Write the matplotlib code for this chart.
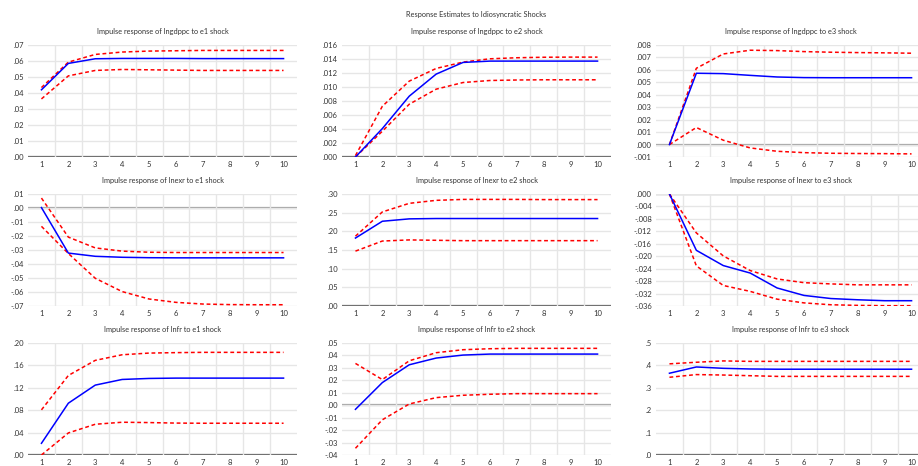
import matplotlib
matplotlib.use("Agg")
import matplotlib.pyplot as plt
import numpy as np

plt.rcParams['font.family'] = ['Lato', 'DejaVu Sans']

periods = list(range(1, 11))

# lngdppc
gdp_e1_mid = [0.0420, 0.0585, 0.0614, 0.0616, 0.0616, 0.0616, 0.0615, 0.0615, 0.0615, 0.0615]
gdp_e1_up = [0.0434, 0.0593, 0.0641, 0.0656, 0.0662, 0.0664, 0.0666, 0.0666, 0.0666, 0.0666]
gdp_e1_lo = [0.0363, 0.0507, 0.0541, 0.0547, 0.0545, 0.0543, 0.0541, 0.0541, 0.0541, 0.0541]

gdp_e2_mid = [0.0, 0.00406, 0.00869, 0.01184, 0.01351, 0.0137, 0.0137, 0.0137, 0.0137, 0.0137]
gdp_e2_up = [0.0002, 0.00725, 0.01084, 0.01265, 0.01356, 0.01403, 0.01418, 0.01425, 0.01427, 0.01427]
gdp_e2_lo = [0.0, 0.00368, 0.00754, 0.00969, 0.01064, 0.01093, 0.01100, 0.01103, 0.01103, 0.01103]

gdp_e3_mid = [0.0, 0.00573, 0.0057, 0.00556, 0.00543, 0.00538, 0.00537, 0.00537, 0.00537, 0.00537]
gdp_e3_up = [0.0, 0.00613, 0.00728, 0.00758, 0.00755, 0.00747, 0.00742, 0.00739, 0.00737, 0.00734]
gdp_e3_lo = [0.0, 0.00137, 0.00035, -0.00027, -0.00054, -0.00065, -0.00070, -0.00072, -0.00073, -0.00075]

# lnexr
exr_e1_mid = [0.0003, -0.0322, -0.0345, -0.0352, -0.0355, -0.0356, -0.0356, -0.0356, -0.0356, -0.0356]
exr_e1_up = [0.0071, -0.0208, -0.0285, -0.0308, -0.0316, -0.0318, -0.0318, -0.0318, -0.0318, -0.0318]
exr_e1_lo = [-0.0131, -0.0325, -0.0502, -0.0597, -0.0650, -0.0674, -0.0686, -0.0690, -0.0691, -0.0691]

exr_e2_mid = [0.182, 0.227, 0.2334, 0.2343, 0.2343, 0.2343, 0.2343, 0.2343, 0.2343, 0.2343]
exr_e2_up = [0.187, 0.252, 0.275, 0.283, 0.2855, 0.2855, 0.2855, 0.285, 0.285, 0.285]
exr_e2_lo = [0.147, 0.174, 0.177, 0.176, 0.175, 0.175, 0.175, 0.175, 0.175, 0.175]

exr_e3_mid = [0.0, -0.0181, -0.0230, -0.0254, -0.0302, -0.0326, -0.0336, -0.0340, -0.0343, -0.0343]
exr_e3_up = [0.0, -0.0125, -0.0199, -0.0246, -0.0273, -0.0285, -0.0289, -0.0292, -0.0292, -0.0292]
exr_e3_lo = [0.0, -0.0231, -0.0294, -0.0313, -0.0338, -0.0350, -0.0356, -0.0358, -0.0359, -0.0359]

# lnfr
fr_e1_mid = [0.0209, 0.0925, 0.1248, 0.1349, 0.1367, 0.1373, 0.1373, 0.1373, 0.1373, 0.1373]
fr_e1_up = [0.0806, 0.1420, 0.1690, 0.1790, 0.1820, 0.1828, 0.1833, 0.1833, 0.1833, 0.1833]
fr_e1_lo = [0.0, 0.0394, 0.0549, 0.0585, 0.0579, 0.0570, 0.0567, 0.0567, 0.0567, 0.0567]

fr_e2_mid = [-0.0033, 0.0182, 0.0325, 0.0379, 0.0403, 0.0411, 0.0411, 0.0411, 0.0411, 0.0411]
fr_e2_up = [0.0336, 0.0206, 0.0357, 0.0422, 0.0446, 0.0454, 0.0457, 0.0457, 0.0457, 0.0457]
fr_e2_lo = [-0.0346, -0.0117, 0.0010, 0.0061, 0.0080, 0.0088, 0.0093, 0.0093, 0.0093, 0.0093]

fr_e3_mid = [0.365, 0.393, 0.387, 0.384, 0.383, 0.383, 0.383, 0.383, 0.383, 0.383]
fr_e3_up = [0.407, 0.414, 0.420, 0.418, 0.418, 0.418, 0.418, 0.418, 0.418, 0.418]
fr_e3_lo = [0.347, 0.359, 0.357, 0.354, 0.351, 0.351, 0.351, 0.351, 0.351, 0.351]

panels = [
    ("Impulse response of lngdppc to e1 shock", gdp_e1_mid, gdp_e1_up, gdp_e1_lo, np.arange(0, 0.0701, 0.01), "{:.2f}"),
    ("Impulse response of lngdppc to e2 shock", gdp_e2_mid, gdp_e2_up, gdp_e2_lo, np.arange(0, 0.01601, 0.002), "{:.3f}"),
    ("Impulse response of lngdppc to e3 shock", gdp_e3_mid, gdp_e3_up, gdp_e3_lo, np.arange(-0.001, 0.00801, 0.001), "{:.3f}"),
    ("Impulse response of lnexr to e1 shock", exr_e1_mid, exr_e1_up, exr_e1_lo, np.arange(-0.07, 0.01001, 0.01), "{:.2f}"),
    ("Impulse response of lnexr to e2 shock", exr_e2_mid, exr_e2_up, exr_e2_lo, np.arange(0, 0.3001, 0.05), "{:.2f}"),
    ("Impulse response of lnexr to e3 shock", exr_e3_mid, exr_e3_up, exr_e3_lo, np.arange(-0.036, 0.0001, 0.004), "{:.3f}"),
    ("Impulse response of lnfr to e1 shock", fr_e1_mid, fr_e1_up, fr_e1_lo, np.arange(0, 0.2001, 0.04), "{:.2f}"),
    ("Impulse response of lnfr to e2 shock", fr_e2_mid, fr_e2_up, fr_e2_lo, np.arange(-0.04, 0.05001, 0.01), "{:.2f}"),
    ("Impulse response of lnfr to e3 shock", fr_e3_mid, fr_e3_up, fr_e3_lo, np.arange(0, 0.5001, 0.1), "{:.1f}"),
]

def fmt(v, f):
    # eviews style: .05, -.01 (no leading zero)
    s = f.format(v)
    if s.startswith("-0"):
        s = "-" + s[2:]
    elif s.startswith("0"):
        s = s[1:]
    if s.startswith("-") and float(s) == 0:
        s = s[1:]
    return s

fig = plt.figure(figsize=(9.18, 4.66), dpi=100)
W, H = 918.0, 466.0
lefts = [28, 342, 656]
tops = [45, 194, 343]
aw, ah = 269, 112

for i, (title, mid, up, lo, yt, f) in enumerate(panels):
    r, c = divmod(i, 3)
    ax = fig.add_axes([lefts[c] / W, 1 - (tops[r] + ah) / H, aw / W, ah / H])
    ax.set_xlim(0.5, 10.5)
    ax.set_ylim(yt[0], yt[-1])
    ax.set_yticks(yt)
    ax.set_yticklabels([fmt(v, f) for v in yt])
    ax.set_xticks(periods)
    ax.set_xticks(np.arange(1.5, 10, 1), minor=True)
    ax.grid(True, which='minor', axis='x', color='#e6e6e6', lw=1)
    ax.grid(True, which='major', axis='y', color='#e6e6e6', lw=1)
    ax.tick_params(which='both', length=0, labelsize=5.5, colors='#333333', pad=3)
    for s in ax.spines.values():
        s.set_visible(False)
    lo_lim, hi_lim = yt[0], yt[-1]
    zc = '#555555' if abs(lo_lim) < 1e-9 or abs(hi_lim) < 1e-9 else '#a0a0a0'
    ax.axhline(0, color=zc, lw=1.6, zorder=1)
    ax.plot(periods, up, color='red', lw=1.1, ls=(0, (2.5, 1.8)), zorder=3)
    ax.plot(periods, lo, color='red', lw=1.1, ls=(0, (2.5, 1.8)), zorder=3)
    ax.plot(periods, mid, color='blue', lw=1.1, zorder=4)
    ax.set_title(title, fontsize=5.3, color='#333333', pad=8)

fig.text(476 / W, 1 - 14 / H, "Response Estimates to Idiosyncratic Shocks",
         ha='center', va='center', fontsize=5.3, color='#333333')

fig.savefig("out.png", dpi=100)
